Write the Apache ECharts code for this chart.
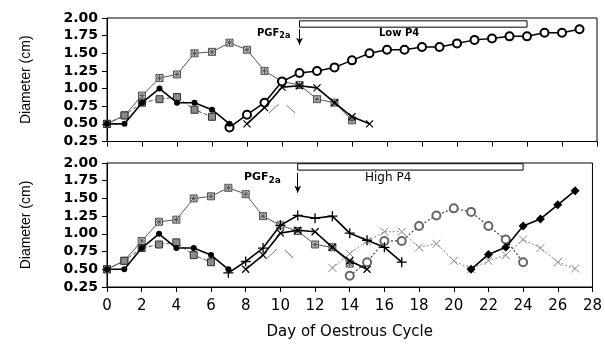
<!DOCTYPE html>
<html>
<head>
<meta charset="utf-8">
<script src="https://cdn.jsdelivr.net/npm/echarts@6/dist/echarts.min.js"></script>
<style>html,body{margin:0;padding:0;background:#fff}#c{width:605px;height:345px}</style>
</head>
<body>
<div id="c"></div>
<script>
// ---- data (day of oestrous cycle, diameter cm) ----
const xTicks = [0,2,4,6,8,10,12,14,16,18,20,22,24,26,28];
const yTicks = [0.25,0.50,0.75,1.00,1.25,1.50,1.75,2.00];

// top panel (Low P4)
const topFilledStart = 0;
const topFilled = [0.50,0.50,0.80,1.00,0.80,0.80,0.70,0.50];
const topCrossSqStart = 0;
const topCrossSq = [0.50,0.62,0.80,0.85,0.88,0.70,0.60];
const topStarStart = 0;
const topStar = [0.50,0.62,0.90,1.15,1.20,1.50,1.52,1.65,1.55,1.25,1.10,1.05,0.85,0.80,0.55];
const topOpenStart = 7;
const topOpen = [0.45,0.63,0.80,1.10,1.22,1.25,1.30,1.40,1.50,1.55,1.55,1.59,1.59,1.64,1.69,1.71,1.74,1.74,1.79,1.79,1.84];
const topXStart = 8;
const topX = [0.50,0.73,1.02,1.04,1.01,0.80,0.60,0.50];
const topDashSqStart = 9;
const topDashSq = [0.60,0.82,0.60];

// bottom panel (High P4)
const botFilledStart = 0;
const botFilled = [0.50,0.50,0.80,1.00,0.80,0.80,0.70,0.50];
const botCrossSqStart = 0;
const botCrossSq = [0.50,0.62,0.80,0.85,0.88,0.70,0.60];
const botStarStart = 0;
const botStar = [0.50,0.62,0.90,1.17,1.20,1.50,1.53,1.65,1.56,1.25,1.12,1.04,0.85,0.81,0.58];
const botPlusStart = 7;
const botPlus = [0.45,0.61,0.80,1.12,1.26,1.22,1.25,1.01,0.91,0.81,0.60];
const botXStart = 8;
const botX = [0.50,0.70,1.01,1.05,1.03,0.81,0.62,0.50];
const botDashSqStart = 9;
const botDashSq = [0.60,0.83,0.60];
const botGrayXStart = 13;
const botGrayX = [0.52,0.72,0.90,1.03,1.03,0.81,0.86,0.62,0.50,0.62,0.70,0.92,0.80,0.60,0.51];
const botGrayCircStart = 14;
const botGrayCirc = [0.41,0.60,0.90,0.90,1.11,1.26,1.36,1.31,1.11,0.92,0.60];
const botDiamondStart = 21;
const botDiamond = [0.50,0.71,0.81,1.11,1.21,1.41,1.61];

// treatment periods / injection day
const pgfDay = 11;
const p4Start = 11, p4End = 24;

function pts(start, vals){ return vals.map((v,i)=>[start+i, v]); }

const X_PATH = 'path://M0,0L10,10M10,0L0,10';
const PLUS_PATH = 'path://M5,0L5,10M0,5L10,5';
const STAR_PATH = 'path://M0,0L10,0L10,10L0,10Z M0,0L10,10 M10,0L0,10 M5,0L5,10 M0,5L10,5';

function styleFilled(g, d){ return {type:'line', xAxisIndex:g, yAxisIndex:g, data:d, symbol:'circle', symbolSize:6,
  itemStyle:{color:'#000'}, lineStyle:{color:'#000', width:1.6}, z:5}; }
function styleCrossSq(g, d){ return {type:'line', xAxisIndex:g, yAxisIndex:g, data:d, symbol:'rect', symbolSize:7,
  itemStyle:{color:'#8a8a8a', borderColor:'#333', borderWidth:1}, lineStyle:{color:'#555', width:1, type:[4,2]}, z:4}; }
function styleStar(g, d){ return {type:'line', xAxisIndex:g, yAxisIndex:g, data:d, symbol:STAR_PATH, symbolSize:7,
  itemStyle:{color:'#ddd', borderColor:'#555', borderWidth:1}, lineStyle:{color:'#555', width:1}, z:3}; }
function styleX(g, d){ return {type:'line', xAxisIndex:g, yAxisIndex:g, data:d, symbol:X_PATH, symbolSize:7,
  itemStyle:{color:'rgba(0,0,0,0)', borderColor:'#000', borderWidth:1.3}, lineStyle:{color:'#000', width:1.6}, z:5}; }
function styleDashSq(g, d){ return {type:'line', xAxisIndex:g, yAxisIndex:g, data:d, symbol:'emptyRect', symbolSize:7,
  itemStyle:{color:'#fff', borderColor:'#777', borderWidth:1, borderType:'dashed'}, lineStyle:{color:'#777', width:1}, z:3}; }

const series = [
  styleCrossSq(0, pts(topCrossSqStart, topCrossSq)),
  styleStar(0, pts(topStarStart, topStar)),
  styleFilled(0, pts(topFilledStart, topFilled)),
  {type:'line', xAxisIndex:0, yAxisIndex:0, data:pts(topOpenStart, topOpen), symbol:'emptyCircle', symbolSize:8,
   itemStyle:{color:'#000', borderColor:'#000', borderWidth:1}, lineStyle:{color:'#000', width:1.5}, z:4,
   markArea:{silent:true, itemStyle:{color:'#fff', borderColor:'#000', borderWidth:1},
     data:[[{coord:[p4Start,1.96]},{coord:[p4End,1.87]}]]},
   markLine:{silent:true, symbol:['none','arrow'], symbolSize:[5,7], label:{show:false},
     lineStyle:{color:'#000', width:1, type:'solid'},
     data:[[{coord:[pgfDay,1.84]},{coord:[pgfDay,1.62]}]]}},
  styleX(0, pts(topXStart, topX)),
  styleDashSq(0, pts(topDashSqStart, topDashSq)),

  styleCrossSq(1, pts(botCrossSqStart, botCrossSq)),
  styleStar(1, pts(botStarStart, botStar)),
  styleFilled(1, pts(botFilledStart, botFilled)),
  {type:'line', xAxisIndex:1, yAxisIndex:1, data:pts(botPlusStart, botPlus), symbol:PLUS_PATH, symbolSize:10,
   itemStyle:{color:'rgba(0,0,0,0)', borderColor:'#000', borderWidth:1.3}, lineStyle:{color:'#000', width:1.6}, z:5,
   markArea:{silent:true, itemStyle:{color:'#fff', borderColor:'#000', borderWidth:1},
     data:[[{coord:[p4Start,1.99]},{coord:[p4End,1.90]}]]},
   markLine:{silent:true, symbol:['none','arrow'], symbolSize:[5,7], label:{show:false},
     lineStyle:{color:'#000', width:1, type:'solid'},
     data:[[{coord:[pgfDay,1.86]},{coord:[pgfDay,1.58]}]]}},
  styleX(1, pts(botXStart, botX)),
  styleDashSq(1, pts(botDashSqStart, botDashSq)),
  {type:'line', xAxisIndex:1, yAxisIndex:1, data:pts(botGrayXStart, botGrayX), symbol:X_PATH, symbolSize:8,
   itemStyle:{color:'rgba(0,0,0,0)', borderColor:'#888', borderWidth:1}, lineStyle:{color:'#888', width:1, type:[2,2]}, z:2},
  {type:'line', xAxisIndex:1, yAxisIndex:1, data:pts(botGrayCircStart, botGrayCirc), symbol:'emptyCircle', symbolSize:8,
   itemStyle:{color:'#666', borderColor:'#666', borderWidth:1}, lineStyle:{color:'#444', width:1.2, type:[2,2]}, z:2},
  {type:'line', xAxisIndex:1, yAxisIndex:1, data:pts(botDiamondStart, botDiamond), symbol:'diamond', symbolSize:9,
   itemStyle:{color:'#000'}, lineStyle:{color:'#000', width:1.6}, z:5}
];

const axisCommon = {
  axisLine:{show:true, lineStyle:{color:'#000', width:1}},
  axisTick:{show:true, inside:false, length:5, lineStyle:{color:'#000'}},
  splitLine:{show:false}
};

function xAxis(gi, labels){
  return Object.assign({type:'value', gridIndex:gi, min:xTicks[0], max:xTicks[xTicks.length-1], interval:2,
    axisLabel:{show:labels, color:'#000', fontFamily:'DejaVu Sans', fontSize:15, margin:12},
    name: labels ? 'Day of Oestrous Cycle' : '', nameLocation:'middle', nameGap:38,
    nameTextStyle:{color:'#000', fontFamily:'DejaVu Sans', fontSize:15}}, axisCommon);
}
function yAxis(gi){
  return Object.assign({type:'value', gridIndex:gi, min:yTicks[0], max:yTicks[yTicks.length-1], interval:0.25,
    axisLabel:{color:'#000', fontFamily:'DejaVu Sans', fontWeight:'bold', fontSize:14, margin:9, formatter:v=>v.toFixed(2)},
    name:'Diameter (cm)', nameLocation:'middle', nameGap:74, nameRotate:90,
    nameTextStyle:{color:'#000', fontFamily:'Liberation Sans', fontSize:14}}, axisCommon);
}

const option = {
  animation:false,
  grid:[
    {left:107, right:8, top:18, height:123.5, show:true, borderColor:'#000', borderWidth:1, backgroundColor:'transparent'},
    {left:107, right:8, top:163, height:124, show:true, borderColor:'#000', borderWidth:1, backgroundColor:'transparent'}
  ],
  xAxis:[xAxis(0,false), xAxis(1,true)],
  yAxis:[yAxis(0), yAxis(1)],
  graphic:[
    {type:'text', left:257, top:28, style:{text:'{a|PGF}{b|2a}', rich:{
      a:{fontFamily:'DejaVu Sans', fontWeight:'bold', fontSize:10, fill:'#000'},
      b:{fontFamily:'DejaVu Sans', fontWeight:'bold', fontSize:8, fill:'#000', padding:[6,0,0,0]}}}},
    {type:'text', left:379, top:28, style:{text:'Low P4', fontFamily:'DejaVu Sans', fontWeight:'bold', fontSize:10, fill:'#000'}},
    {type:'text', left:244, top:172, style:{text:'{a|PGF}{b|2a}', rich:{
      a:{fontFamily:'DejaVu Sans', fontWeight:'bold', fontSize:11, fill:'#000'},
      b:{fontFamily:'DejaVu Sans', fontWeight:'bold', fontSize:9, fill:'#000', padding:[7,0,0,0]}}}},
    {type:'text', left:365, top:172, style:{text:'High P4', fontFamily:'DejaVu Sans', fontSize:12, fill:'#000'}}
  ],
  series: series
};

const chart = echarts.init(document.getElementById('c'), null, {renderer:'canvas'});
chart.setOption(option);
</script>
</body>
</html>
